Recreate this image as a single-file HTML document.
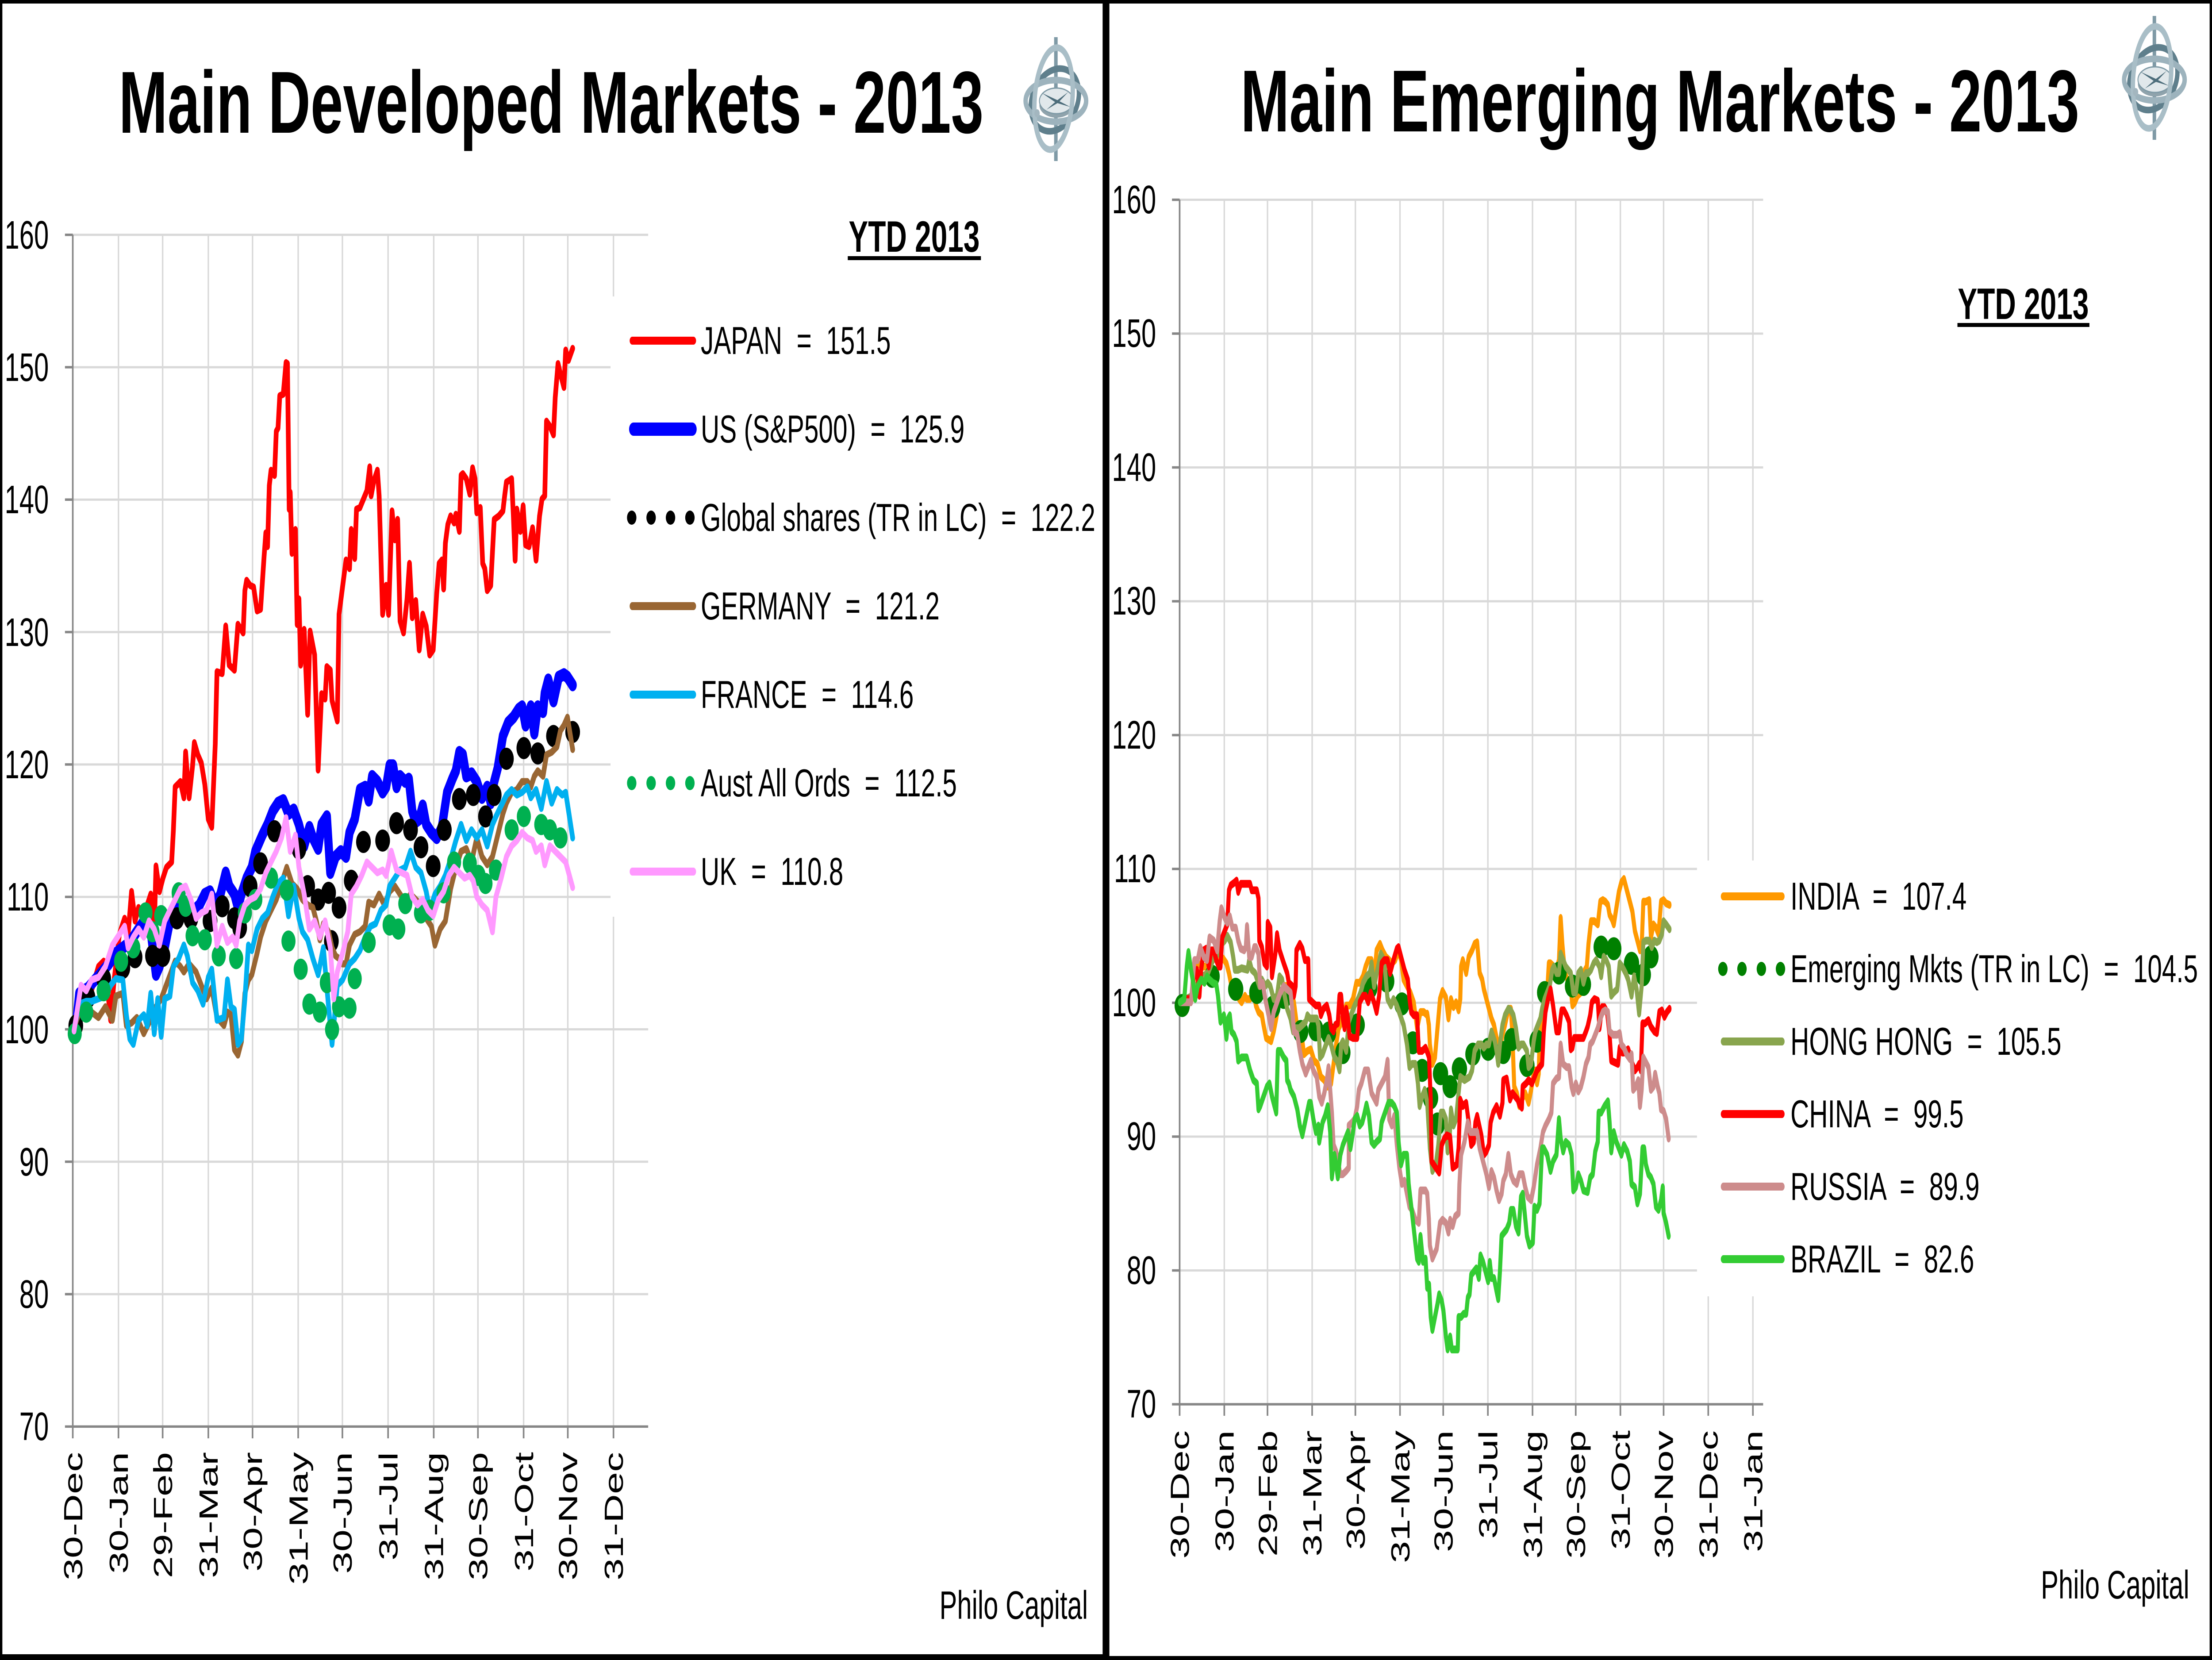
<!DOCTYPE html>
<html>
<head>
<meta charset="utf-8">
<style>
html,body{margin:0;padding:0;width:100%;height:100%;overflow:hidden;background:#000;}
svg{position:absolute;left:0;top:0;width:100%;height:100%;display:block;}
text{font-family:"Liberation Sans",Arial,sans-serif;fill:#000;}
.t{white-space:pre;}
</style>
</head>
<body>
<svg viewBox="0 0 7525 3752" preserveAspectRatio="none" xmlns="http://www.w3.org/2000/svg">
<rect x="0" y="0" width="7525" height="3752" fill="#000"/>
<rect x="8" y="8" width="3743" height="3731" fill="#fff"/>
<rect x="3774" y="8" width="3743" height="3735" fill="#fff"/>

<!-- ================= LEFT PANEL ================= -->
<text x="1875" y="300" font-size="199" font-weight="bold" text-anchor="middle">Main Developed Markets - 2013</text>

<g transform="translate(3592,224)">
  <rect x="-6" y="-140" width="12" height="280" fill="#7f9aa6"/>
  <ellipse cx="-4" cy="0" rx="86" ry="66" transform="rotate(-28)" fill="none" stroke="#5f7f8c" stroke-width="15"/>
  <ellipse cx="2" cy="14" rx="58" ry="28" fill="#8fa3ac"/>
  <ellipse cx="2" cy="4" rx="58" ry="29" fill="#e1e8eb" stroke="#7f9aa6" stroke-width="3"/>
  <path d="M-48,-14 L4,2 L50,18 L0,8 Z M-32,24 L2,4 L42,-16 L8,8 Z" fill="#4d6d7b"/>
  <ellipse cx="0" cy="4" rx="103" ry="47" fill="none" stroke="#9db3bd" stroke-width="15"/>
  <ellipse cx="-8" cy="0" rx="64" ry="116" transform="rotate(8)" fill="none" stroke="#a9bec7" stroke-width="15"/>
  <circle cx="-64" cy="32" r="9" fill="#a3b6bf"/>
</g>

<g stroke="#d9d9d9" stroke-width="5" fill="none">
  <line x1="247.6" y1="2925.1" x2="2205" y2="2925.1"/>
  <line x1="247.6" y1="2625.8" x2="2205" y2="2625.8"/>
  <line x1="247.6" y1="2326.5" x2="2205" y2="2326.5"/>
  <line x1="247.6" y1="2027.2" x2="2205" y2="2027.2"/>
  <line x1="247.6" y1="1727.9" x2="2205" y2="1727.9"/>
  <line x1="247.6" y1="1428.6" x2="2205" y2="1428.6"/>
  <line x1="247.6" y1="1129.3" x2="2205" y2="1129.3"/>
  <line x1="247.6" y1="830" x2="2205" y2="830"/>
  <line x1="247.6" y1="530.7" x2="2205" y2="530.7"/>
  <line x1="403.0" y1="530.7" x2="403.0" y2="3224.4"/>
  <line x1="553.3" y1="530.7" x2="553.3" y2="3224.4"/>
  <line x1="708.7" y1="530.7" x2="708.7" y2="3224.4"/>
  <line x1="859.1" y1="530.7" x2="859.1" y2="3224.4"/>
  <line x1="1014.4" y1="530.7" x2="1014.4" y2="3224.4"/>
  <line x1="1164.8" y1="530.7" x2="1164.8" y2="3224.4"/>
  <line x1="1320.2" y1="530.7" x2="1320.2" y2="3224.4"/>
  <line x1="1475.5" y1="530.7" x2="1475.5" y2="3224.4"/>
  <line x1="1625.9" y1="530.7" x2="1625.9" y2="3224.4"/>
  <line x1="1781.3" y1="530.7" x2="1781.3" y2="3224.4"/>
  <line x1="1931.6" y1="530.7" x2="1931.6" y2="3224.4"/>
  <line x1="2087.0" y1="530.7" x2="2087.0" y2="3224.4"/>
</g>
<rect x="2077" y="670" width="1670" height="1402" fill="#fff"/>
<g stroke="#868686" stroke-width="5.5" fill="none">
  <line x1="247.6" y1="530.7" x2="247.6" y2="3251"/>
  <line x1="221" y1="3224.4" x2="2205" y2="3224.4"/>
  <line x1="221" y1="2925.1" x2="247.6" y2="2925.1"/>
  <line x1="221" y1="2625.8" x2="247.6" y2="2625.8"/>
  <line x1="221" y1="2326.5" x2="247.6" y2="2326.5"/>
  <line x1="221" y1="2027.2" x2="247.6" y2="2027.2"/>
  <line x1="221" y1="1727.9" x2="247.6" y2="1727.9"/>
  <line x1="221" y1="1428.6" x2="247.6" y2="1428.6"/>
  <line x1="221" y1="1129.3" x2="247.6" y2="1129.3"/>
  <line x1="221" y1="830" x2="247.6" y2="830"/>
  <line x1="221" y1="530.7" x2="247.6" y2="530.7"/>
  <line x1="403.0" y1="3224.4" x2="403.0" y2="3251"/>
  <line x1="553.3" y1="3224.4" x2="553.3" y2="3251"/>
  <line x1="708.7" y1="3224.4" x2="708.7" y2="3251"/>
  <line x1="859.1" y1="3224.4" x2="859.1" y2="3251"/>
  <line x1="1014.4" y1="3224.4" x2="1014.4" y2="3251"/>
  <line x1="1164.8" y1="3224.4" x2="1164.8" y2="3251"/>
  <line x1="1320.2" y1="3224.4" x2="1320.2" y2="3251"/>
  <line x1="1475.5" y1="3224.4" x2="1475.5" y2="3251"/>
  <line x1="1625.9" y1="3224.4" x2="1625.9" y2="3251"/>
  <line x1="1781.3" y1="3224.4" x2="1781.3" y2="3251"/>
  <line x1="1931.6" y1="3224.4" x2="1931.6" y2="3251"/>
  <line x1="2087.0" y1="3224.4" x2="2087.0" y2="3251"/>
</g>
<g font-size="90" text-anchor="end">
  <text x="166" y="3255">70</text>
  <text x="166" y="2956">80</text>
  <text x="166" y="2657">90</text>
  <text x="166" y="2358">100</text>
  <text x="166" y="2058">110</text>
  <text x="166" y="1759">120</text>
  <text x="166" y="1460">130</text>
  <text x="166" y="1160">140</text>
  <text x="166" y="861">150</text>
  <text x="166" y="562">160</text>
</g>
<g font-size="90" text-anchor="end">
  <text transform="translate(279.6,3282) rotate(-90)">30-Dec</text>
  <text transform="translate(435.0,3282) rotate(-90)">30-Jan</text>
  <text transform="translate(585.3,3282) rotate(-90)">29-Feb</text>
  <text transform="translate(740.7,3282) rotate(-90)">31-Mar</text>
  <text transform="translate(891.1,3282) rotate(-90)">30-Apr</text>
  <text transform="translate(1046.4,3282) rotate(-90)">31-May</text>
  <text transform="translate(1196.8,3282) rotate(-90)">30-Jun</text>
  <text transform="translate(1352.2,3282) rotate(-90)">31-Jul</text>
  <text transform="translate(1507.5,3282) rotate(-90)">31-Aug</text>
  <text transform="translate(1657.9,3282) rotate(-90)">30-Sep</text>
  <text transform="translate(1813.3,3282) rotate(-90)">31-Oct</text>
  <text transform="translate(1963.6,3282) rotate(-90)">30-Nov</text>
  <text transform="translate(2119.0,3282) rotate(-90)">31-Dec</text>
</g>

<!-- series left (uniform scale group) -->
<g transform="translate(240,1500) scale(1.1862)" fill="none" stroke-linejoin="round" stroke-linecap="round">
  <!-- JAPAN -->
  <polyline stroke="#ff0000" stroke-width="13.5" points="12,694.7 40,628.3 60,623.2 80,577.2 95,567.0 105,613.0 115,679.4 125,602.7 140,515.9 155,485.3 165,515.9 175,434.2 185,490.4 195,464.8 210,485.3 220,459.7 230,439.3 240,510.8 245,385.7 255,434.2 265,408.6 275,388.2 290,378.0 295,316.7 300,235.0 315,224.8 325,255.4 330,168.6 340,255.4 350,194.1 355,150.7 365,173.7 375,189.0 385,229.9 395,296.3 405,311.6 415,153.2 420,15.5 435,18.8 445,-71.6 455,2.6 470,12.3 480,-74.8 495,-58.7 500,-139.3 505,-158.7 515,-149.0 525,-145.8 535,-100.6 545,-103.8 555,-203.8 560,-249.0 565,-223.2 570,-339.3 575,-368.4 585,-358.7 590,-442.6 595,-449.0 600,-510.3 610,-513.5 618,-573.5 622,-571.6 627,-294.2 630,-326.4 635,-210.3 645,-255.4 650,-74.8 655,-123.2 660,2.6 670,-65.1 680,96.2 687,-61.9 700,-16.7 710,202.6 720,57.5 730,67.2 735,5.9 745,12.3 750,70.4 765,109.1 770,-94.1 780,-145.8 790,-197.4 800,-181.2 805,-255.4 815,-200.6 820,-294.2 830,-297.4 840,-313.5 850,-329.6 858,-374.8 862,-320.0 870,-349.0 880,-368.4 885,-320.0 895,-94.1 905,-149.0 912,-94.1 922,-290.9 930,-236.1 938,-274.8 945,-81.2 955,-58.7 965,-123.2 972,-190.9 980,-87.7 990,-120.0 1000,-26.4 1010,-94.1 1020,-71.6 1030,-16.7 1040,-26.4 1050,-132.9 1057,-190.9 1065,-197.4 1070,-142.5 1075,-229.6 1082,-265.1 1090,-281.3 1100,-268.3 1105,-284.5 1115,-252.2 1120,-358.7 1125,-361.9 1135,-352.2 1145,-323.2 1153,-372.9 1160,-352.2 1165,-287.7 1175,-297.4 1182,-190.9 1188,-181.2 1195,-139.3 1205,-149.0 1215,-274.8 1228,-281.3 1240,-290.9 1245,-320.0 1250,-345.8 1265,-352.2 1270,-281.3 1275,-197.4 1280,-294.2 1290,-252.2 1298,-300.6 1305,-226.4 1315,-223.2 1325,-258.7 1330,-229.6 1335,-197.4 1345,-281.3 1352,-313.5 1360,-320.0 1365,-461.9 1375,-452.2 1385,-436.1 1390,-507.1 1398,-571.6 1405,-552.2 1415,-526.4 1420,-597.4 1428,-578.0 1440,-600.6"/>
  <!-- US -->
  <polyline stroke="#0000ff" stroke-width="23.6" points="15,694.7 25,628.3 50,618.1 70,602.7 90,587.4 110,572.1 130,551.7 150,541.4 170,531.2 190,510.8 210,490.4 230,510.8 245,592.5 255,577.2 270,541.4 285,490.4 300,459.7 320,449.5 340,459.7 355,469.9 370,459.7 385,439.3 400,434.2 415,459.7 430,439.3 445,398.4 455,424.0 470,439.3 480,464.8 490,439.3 505,408.6 520,388.2 530,357.6 550,326.9 565,306.5 580,280.9 595,265.6 610,260.5 625,286.0 640,278.4 655,306.5 670,347.3 685,311.6 695,332.0 710,352.5 720,306.5 735,291.2 745,398.4 760,367.8 775,357.6 790,367.8 800,321.8 815,296.3 830,240.1 845,235.0 855,260.5 865,214.5 880,224.8 895,245.2 905,235.0 915,194.1 925,194.1 935,235.0 945,214.5 960,224.8 970,219.6 980,280.9 990,301.4 1000,296.3 1010,270.7 1020,306.5 1035,321.8 1050,332.0 1065,311.6 1080,245.2 1095,219.6 1105,204.3 1115,168.6 1125,173.7 1135,214.5 1150,209.4 1165,224.8 1180,255.4 1195,235.0 1205,265.6 1215,224.8 1225,199.2 1240,137.9 1255,112.4 1270,102.2 1285,86.8 1295,81.7 1305,117.5 1320,81.7 1330,132.8 1340,81.7 1355,91.9 1360,56.2 1370,30.6 1385,71.5 1400,25.5 1415,20.4 1425,25.5 1440,40.9"/>
  <!-- Global shares dots -->
  <g fill="#000" stroke="none">
    <circle cx="15" cy="689.6" r="21.1"/><circle cx="50" cy="636.0" r="21.1"/><circle cx="95" cy="600.2" r="21.1"/>
    <circle cx="150" cy="579.8" r="21.1"/><circle cx="185" cy="559.3" r="21.1"/><circle cx="235" cy="556.8" r="21.1"/>
    <circle cx="265" cy="556.8" r="21.1"/><circle cx="305" cy="485.3" r="21.1"/><circle cx="345" cy="485.3" r="21.1"/>
    <circle cx="400" cy="490.4" r="21.1"/><circle cx="435" cy="462.3" r="21.1"/><circle cx="470" cy="485.3" r="21.1"/>
    <circle cx="485" cy="503.1" r="21.1"/><circle cx="515" cy="424.0" r="21.1"/><circle cx="545" cy="380.5" r="21.1"/>
    <circle cx="585" cy="319.3" r="21.1"/><circle cx="655" cy="352.5" r="21.1"/><circle cx="680" cy="424.0" r="21.1"/>
    <circle cx="710" cy="449.5" r="21.1"/><circle cx="740" cy="436.7" r="21.1"/><circle cx="770" cy="464.8" r="21.1"/>
    <circle cx="748" cy="528.7" r="21.1"/><circle cx="805" cy="413.7" r="21.1"/><circle cx="840" cy="339.7" r="21.1"/>
    <circle cx="895" cy="337.1" r="21.1"/><circle cx="935" cy="303.9" r="21.1"/><circle cx="975" cy="316.7" r="21.1"/>
    <circle cx="1005" cy="349.9" r="21.1"/><circle cx="1040" cy="385.7" r="21.1"/><circle cx="1072" cy="316.7" r="21.1"/>
    <circle cx="1115" cy="258.0" r="21.1"/><circle cx="1155" cy="250.3" r="21.1"/><circle cx="1190" cy="291.2" r="21.1"/>
    <circle cx="1215" cy="250.3" r="21.1"/><circle cx="1250" cy="181.3" r="21.1"/><circle cx="1300" cy="160.9" r="21.1"/>
    <circle cx="1340" cy="171.1" r="21.1"/><circle cx="1385" cy="137.9" r="21.1"/><circle cx="1440" cy="130.3" r="21.1"/>
  </g>
  <!-- GERMANY -->
  <polyline stroke="#996633" stroke-width="13.5" points="10,694.7 30,653.8 60,664.0 80,674.3 100,653.8 120,679.4 130,633.4 150,628.3 160,689.6 175,684.5 190,674.3 210,704.9 225,684.5 240,658.9 260,638.5 280,602.7 300,567.0 315,577.2 325,587.4 340,572.1 360,587.4 375,613.0 390,638.5 405,618.1 420,674.3 440,689.6 450,664.0 460,669.1 470,735.6 480,745.8 490,720.2 500,628.3 510,602.7 520,592.5 535,551.7 545,521.0 560,490.4 575,469.9 590,449.5 605,418.9 620,388.2 635,418.9 650,429.1 665,449.5 680,459.7 695,464.8 705,490.4 715,526.1 725,495.5 740,510.8 750,541.4 760,556.8 770,561.9 780,572.1 790,572.1 800,536.3 815,515.9 830,510.8 845,500.6 855,454.6 870,459.7 885,439.3 900,459.7 915,434.2 930,424.0 945,439.3 960,454.6 975,439.3 990,449.5 1005,459.7 1020,485.3 1035,500.6 1045,536.3 1060,505.7 1075,490.4 1090,429.1 1105,388.2 1120,357.6 1135,352.5 1150,378.0 1165,332.0 1180,367.8 1195,383.1 1210,367.8 1225,326.9 1240,286.0 1250,265.6 1265,245.2 1280,240.1 1295,224.8 1310,224.8 1320,235.0 1330,214.5 1340,204.3 1355,214.5 1365,173.7 1380,168.6 1395,158.3 1405,127.7 1415,117.5 1425,102.2 1440,163.5"/>
  <!-- FRANCE -->
  <polyline stroke="#00b0f0" stroke-width="13.5" points="10,694.7 25,648.7 45,643.6 60,643.6 80,638.5 100,633.4 115,613.0 130,600.2 150,602.7 160,669.1 170,715.1 180,725.3 195,679.4 210,669.1 220,689.6 230,628.3 240,704.9 250,638.5 260,710.0 270,638.5 285,633.4 295,577.2 310,561.9 325,536.3 335,556.8 350,607.9 365,623.2 380,648.7 395,597.6 405,582.3 420,679.4 440,674.3 450,602.7 460,653.8 470,658.9 480,725.3 490,715.1 500,638.5 510,536.3 520,546.6 535,505.7 550,485.3 565,475.0 580,444.4 595,418.9 610,408.6 625,480.2 640,424.0 655,485.3 665,510.8 680,526.1 695,561.9 710,592.5 725,541.4 740,653.8 750,725.3 765,613.0 780,602.7 800,572.1 815,561.9 830,546.6 845,521.0 860,500.6 875,495.5 890,469.9 905,459.7 915,424.0 930,408.6 945,393.3 960,388.2 975,357.6 990,388.2 1005,398.4 1020,434.2 1030,469.9 1045,439.3 1060,424.0 1075,403.5 1090,372.9 1105,337.1 1120,306.5 1135,337.1 1150,316.7 1165,332.0 1180,316.7 1195,347.3 1210,306.5 1220,291.2 1235,270.7 1250,250.3 1265,240.1 1280,250.3 1295,245.2 1310,235.0 1320,255.4 1335,240.1 1350,275.8 1365,224.8 1380,265.6 1395,240.1 1410,250.3 1420,245.2 1440,332.0"/>
  <!-- Aust All Ords dots -->
  <g fill="#00b050" stroke="none">
    <circle cx="12" cy="704.9" r="20.2"/><circle cx="45" cy="664.0" r="20.2"/><circle cx="95" cy="623.2" r="20.2"/>
    <circle cx="145" cy="567.0" r="20.2"/><circle cx="180" cy="541.4" r="20.2"/><circle cx="215" cy="475.0" r="20.2"/>
    <circle cx="235" cy="510.8" r="20.2"/><circle cx="260" cy="480.2" r="20.2"/><circle cx="310" cy="436.7" r="20.2"/>
    <circle cx="330" cy="462.3" r="20.2"/><circle cx="350" cy="518.5" r="20.2"/><circle cx="385" cy="526.1" r="20.2"/>
    <circle cx="425" cy="556.8" r="20.2"/><circle cx="475" cy="561.9" r="20.2"/><circle cx="500" cy="475.0" r="20.2"/>
    <circle cx="530" cy="449.5" r="20.2"/><circle cx="575" cy="408.6" r="20.2"/><circle cx="620" cy="431.6" r="20.2"/>
    <circle cx="625" cy="528.7" r="20.2"/><circle cx="660" cy="582.3" r="20.2"/><circle cx="685" cy="648.7" r="20.2"/>
    <circle cx="715" cy="664.0" r="20.2"/><circle cx="735" cy="607.9" r="20.2"/><circle cx="750" cy="697.2" r="20.2"/>
    <circle cx="770" cy="653.8" r="20.2"/><circle cx="800" cy="656.4" r="20.2"/><circle cx="815" cy="600.2" r="20.2"/>
    <circle cx="855" cy="531.2" r="20.2"/><circle cx="915" cy="498.0" r="20.2"/><circle cx="940" cy="505.7" r="20.2"/>
    <circle cx="960" cy="457.2" r="20.2"/><circle cx="1005" cy="475.0" r="20.2"/><circle cx="1030" cy="469.9" r="20.2"/>
    <circle cx="1070" cy="436.7" r="20.2"/><circle cx="1100" cy="378.0" r="20.2"/><circle cx="1145" cy="380.5" r="20.2"/>
    <circle cx="1170" cy="403.5" r="20.2"/><circle cx="1190" cy="418.9" r="20.2"/><circle cx="1220" cy="393.3" r="20.2"/>
    <circle cx="1265" cy="316.7" r="20.2"/><circle cx="1300" cy="291.2" r="20.2"/><circle cx="1350" cy="306.5" r="20.2"/>
    <circle cx="1375" cy="316.7" r="20.2"/><circle cx="1405" cy="332.0" r="20.2"/>
  </g>
  <!-- UK -->
  <polyline stroke="#ff99ff" stroke-width="13.5" points="10,699.8 30,613.0 45,623.2 60,602.7 80,597.6 100,577.2 120,536.3 140,515.9 155,500.6 165,541.4 180,521.0 195,505.7 210,521.0 225,490.4 240,505.7 255,536.3 270,490.4 285,469.9 300,449.5 315,429.1 330,424.0 345,449.5 360,485.3 375,475.0 390,469.9 405,439.3 420,536.3 435,500.6 450,531.2 465,521.0 475,536.3 485,490.4 500,459.7 515,449.5 530,444.4 545,429.1 560,398.4 575,378.0 590,357.6 605,332.0 618,293.7 630,357.6 645,326.9 655,388.2 670,439.3 685,505.7 700,490.4 715,521.0 730,490.4 745,541.4 755,638.5 765,587.4 780,551.7 795,510.8 805,439.3 820,424.0 835,403.5 850,378.0 865,388.2 880,398.4 895,393.3 905,403.5 920,357.6 935,393.3 950,398.4 965,403.5 980,444.4 995,459.7 1010,449.5 1025,469.9 1040,480.2 1055,449.5 1070,434.2 1085,403.5 1100,388.2 1115,398.4 1130,408.6 1145,403.5 1155,413.7 1165,444.4 1180,459.7 1195,469.9 1210,510.8 1220,444.4 1235,408.6 1250,367.8 1265,347.3 1280,337.1 1295,321.8 1310,332.0 1325,337.1 1335,357.6 1350,347.3 1360,383.1 1375,347.3 1390,357.6 1405,367.8 1420,378.0 1440,426.5"/>
</g>

<!-- legend left -->
<text x="3110" y="569" font-size="99" font-weight="bold" text-anchor="middle">YTD 2013</text>
<rect x="2884" y="579" width="453" height="9" fill="#000"/>
<g stroke-linecap="round" stroke-width="18">
  <line x1="2151" y1="770" x2="2359" y2="770" stroke="#ff0000"/>
  <line x1="2155" y1="970" x2="2355" y2="970" stroke="#0000ff" stroke-width="30"/>
  <line x1="2151" y1="1370" x2="2359" y2="1370" stroke="#996633"/>
  <line x1="2151" y1="1570" x2="2359" y2="1570" stroke="#00b0f0"/>
  <line x1="2151" y1="1970" x2="2359" y2="1970" stroke="#ff99ff"/>
</g>
<g fill="#000">
  <circle cx="2149" cy="1170" r="16"/><circle cx="2215" cy="1170" r="16"/><circle cx="2281" cy="1170" r="16"/><circle cx="2347" cy="1170" r="16"/>
</g>
<g fill="#00b050">
  <circle cx="2149" cy="1770" r="16"/><circle cx="2215" cy="1770" r="16"/><circle cx="2281" cy="1770" r="16"/><circle cx="2347" cy="1770" r="16"/>
</g>
<g font-size="88">
  <text class="t" x="2384" y="800">JAPAN  =  151.5</text>
  <text class="t" x="2384" y="1000">US (S&amp;P500)  =  125.9</text>
  <text class="t" x="2384" y="1200">Global shares (TR in LC)  =  122.2</text>
  <text class="t" x="2384" y="1400">GERMANY  =  121.2</text>
  <text class="t" x="2384" y="1600">FRANCE  =  114.6</text>
  <text class="t" x="2384" y="1800">Aust All Ords  =  112.5</text>
  <text class="t" x="2384" y="2000">UK  =  110.8</text>
</g>
<text x="3701" y="3659" font-size="90" text-anchor="end">Philo Capital</text>

<!-- ================= RIGHT PANEL ================= -->
<text x="5647" y="297" font-size="199" font-weight="bold" text-anchor="middle">Main Emerging Markets - 2013</text>

<g transform="translate(7329,176)">
  <rect x="-6" y="-140" width="12" height="280" fill="#7f9aa6"/>
  <ellipse cx="-4" cy="0" rx="86" ry="66" transform="rotate(-28)" fill="none" stroke="#5f7f8c" stroke-width="15"/>
  <ellipse cx="2" cy="14" rx="58" ry="28" fill="#8fa3ac"/>
  <ellipse cx="2" cy="4" rx="58" ry="29" fill="#e1e8eb" stroke="#7f9aa6" stroke-width="3"/>
  <path d="M-48,-14 L4,2 L50,18 L0,8 Z M-32,24 L2,4 L42,-16 L8,8 Z" fill="#4d6d7b"/>
  <ellipse cx="0" cy="4" rx="103" ry="47" fill="none" stroke="#9db3bd" stroke-width="15"/>
  <ellipse cx="-8" cy="0" rx="64" ry="116" transform="rotate(8)" fill="none" stroke="#a9bec7" stroke-width="15"/>
  <circle cx="-64" cy="32" r="9" fill="#a3b6bf"/>
</g>

<g stroke="#d9d9d9" stroke-width="5" fill="none">
  <line x1="4013" y1="2871.5" x2="5998" y2="2871.5"/>
  <line x1="4013" y1="2569" x2="5998" y2="2569"/>
  <line x1="4013" y1="2266.5" x2="5998" y2="2266.5"/>
  <line x1="4013" y1="1964" x2="5998" y2="1964"/>
  <line x1="4013" y1="1661.5" x2="5998" y2="1661.5"/>
  <line x1="4013" y1="1359" x2="5998" y2="1359"/>
  <line x1="4013" y1="1056.5" x2="5998" y2="1056.5"/>
  <line x1="4013" y1="754" x2="5998" y2="754"/>
  <line x1="4013" y1="451.5" x2="5998" y2="451.5"/>
  <line x1="4164.9" y1="451.5" x2="4164.9" y2="3174"/>
  <line x1="4311.9" y1="451.5" x2="4311.9" y2="3174"/>
  <line x1="4463.8" y1="451.5" x2="4463.8" y2="3174"/>
  <line x1="4610.8" y1="451.5" x2="4610.8" y2="3174"/>
  <line x1="4762.7" y1="451.5" x2="4762.7" y2="3174"/>
  <line x1="4909.7" y1="451.5" x2="4909.7" y2="3174"/>
  <line x1="5061.6" y1="451.5" x2="5061.6" y2="3174"/>
  <line x1="5213.5" y1="451.5" x2="5213.5" y2="3174"/>
  <line x1="5360.5" y1="451.5" x2="5360.5" y2="3174"/>
  <line x1="5512.4" y1="451.5" x2="5512.4" y2="3174"/>
  <line x1="5659.4" y1="451.5" x2="5659.4" y2="3174"/>
  <line x1="5811.3" y1="451.5" x2="5811.3" y2="3174"/>
  <line x1="5963.2" y1="451.5" x2="5963.2" y2="3174"/>
</g>
<rect x="5773" y="1945" width="1737" height="985" fill="#fff"/>
<g stroke="#868686" stroke-width="5.5" fill="none">
  <line x1="4013" y1="451.5" x2="4013" y2="3200"/>
  <line x1="3987" y1="3174" x2="5998" y2="3174"/>
  <line x1="3987" y1="2871.5" x2="4013" y2="2871.5"/>
  <line x1="3987" y1="2569" x2="4013" y2="2569"/>
  <line x1="3987" y1="2266.5" x2="4013" y2="2266.5"/>
  <line x1="3987" y1="1964" x2="4013" y2="1964"/>
  <line x1="3987" y1="1661.5" x2="4013" y2="1661.5"/>
  <line x1="3987" y1="1359" x2="4013" y2="1359"/>
  <line x1="3987" y1="1056.5" x2="4013" y2="1056.5"/>
  <line x1="3987" y1="754" x2="4013" y2="754"/>
  <line x1="3987" y1="451.5" x2="4013" y2="451.5"/>
  <line x1="4164.9" y1="3174" x2="4164.9" y2="3200"/>
  <line x1="4311.9" y1="3174" x2="4311.9" y2="3200"/>
  <line x1="4463.8" y1="3174" x2="4463.8" y2="3200"/>
  <line x1="4610.8" y1="3174" x2="4610.8" y2="3200"/>
  <line x1="4762.7" y1="3174" x2="4762.7" y2="3200"/>
  <line x1="4909.7" y1="3174" x2="4909.7" y2="3200"/>
  <line x1="5061.6" y1="3174" x2="5061.6" y2="3200"/>
  <line x1="5213.5" y1="3174" x2="5213.5" y2="3200"/>
  <line x1="5360.5" y1="3174" x2="5360.5" y2="3200"/>
  <line x1="5512.4" y1="3174" x2="5512.4" y2="3200"/>
  <line x1="5659.4" y1="3174" x2="5659.4" y2="3200"/>
  <line x1="5811.3" y1="3174" x2="5811.3" y2="3200"/>
  <line x1="5963.2" y1="3174" x2="5963.2" y2="3200"/>
</g>
<g font-size="90" text-anchor="end">
  <text x="3933" y="3204">70</text>
  <text x="3933" y="2902">80</text>
  <text x="3933" y="2599">90</text>
  <text x="3933" y="2297">100</text>
  <text x="3933" y="1994">110</text>
  <text x="3933" y="1692">120</text>
  <text x="3933" y="1389">130</text>
  <text x="3933" y="1087">140</text>
  <text x="3933" y="784">150</text>
  <text x="3933" y="482">160</text>
</g>
<g font-size="90" text-anchor="end">
  <text transform="translate(4045,3233) rotate(-90)">30-Dec</text>
  <text transform="translate(4196.9,3233) rotate(-90)">30-Jan</text>
  <text transform="translate(4343.9,3233) rotate(-90)">29-Feb</text>
  <text transform="translate(4495.8,3233) rotate(-90)">31-Mar</text>
  <text transform="translate(4642.8,3233) rotate(-90)">30-Apr</text>
  <text transform="translate(4794.7,3233) rotate(-90)">31-May</text>
  <text transform="translate(4941.7,3233) rotate(-90)">30-Jun</text>
  <text transform="translate(5093.6,3233) rotate(-90)">31-Jul</text>
  <text transform="translate(5245.5,3233) rotate(-90)">31-Aug</text>
  <text transform="translate(5392.5,3233) rotate(-90)">30-Sep</text>
  <text transform="translate(5544.4,3233) rotate(-90)">31-Oct</text>
  <text transform="translate(5691.4,3233) rotate(-90)">30-Nov</text>
  <text transform="translate(5843.3,3233) rotate(-90)">31-Dec</text>
  <text transform="translate(5995.2,3233) rotate(-90)">31-Jan</text>
</g>

<!-- series right -->
<g fill="none" stroke-linejoin="round" stroke-linecap="round" stroke-width="24">
  <!-- INDIA -->
  <polyline transform="matrix(0.574 0 0 0.7334 4000 1950)" stroke="#ff9900" points="25,430 60,420 95,420 110,330 130,310 160,320 200,320 215,280 230,290 260,290 280,295 300,310 315,340 330,380 350,390 375,420 390,430 410,410 420,420 440,420 460,400 475,440 490,460 510,470 520,500 535,540 565,550 580,520 595,480 610,430 625,400 640,380 660,380 680,390 700,430 715,490 730,510 750,550 760,590 780,580 800,575 820,610 840,620 860,660 880,670 900,690 920,680 935,620 950,560 965,510 975,500 990,470 1010,440 1030,440 1050,420 1070,370 1090,370 1110,350 1125,320 1140,300 1160,300 1175,360 1190,270 1210,250 1225,270 1245,290 1265,300 1280,310 1300,300 1320,270 1335,300 1350,360 1370,380 1390,400 1410,430 1430,510 1450,460 1470,460 1490,470"/>
  <polyline transform="matrix(0.574 0 0 0.7334 4850 1950)" stroke="#ff9900" points="9,465 19,500 25,560 40,620 55,600 70,510 85,420 100,395 120,415 135,480 150,420 165,445 180,430 195,455 205,420 210,320 220,300 240,340 255,290 275,270 290,250 305,245 320,340 335,360 345,390 360,420 375,450 390,480 405,500 420,540 440,575 455,530 470,500 490,450 505,450 515,540 520,620 525,690 540,710 555,750 570,730 590,710 610,740 625,700 640,650 650,640 660,680 670,650 675,540 690,480 705,430 720,400 730,310 740,310 760,320 775,330 790,300 800,170 810,250 825,340 840,360 860,390 870,440 885,430 900,410 920,400 935,340 955,320 965,250 980,180 1000,180 1020,190 1035,120 1050,115 1065,120 1080,130 1090,160 1105,175 1115,190 1130,140 1145,90 1160,60 1175,50 1190,80 1205,110 1225,150 1240,210 1255,240 1270,270 1280,260 1290,120 1305,120 1325,115 1335,230 1350,190 1365,200 1380,220 1395,120 1410,115 1425,125 1445,130"/>
  <!-- Emerging dots -->
  <g transform="matrix(0.574 0 0 0.7334 4000 1950)" fill="#008000" stroke="none">
    <ellipse cx="38" cy="440" rx="45.3" ry="35.5"/>
    <ellipse cx="215" cy="350" rx="45.3" ry="35.5"/>
    <ellipse cx="355" cy="390" rx="45.3" ry="35.5"/>
    <ellipse cx="480" cy="400" rx="45.3" ry="35.5"/>
    <ellipse cx="575" cy="445" rx="45.3" ry="35.5"/>
    <ellipse cx="640" cy="415" rx="45.3" ry="35.5"/>
    <ellipse cx="740" cy="520" rx="45.3" ry="35.5"/>
    <ellipse cx="830" cy="515" rx="45.3" ry="35.5"/>
    <ellipse cx="905" cy="525" rx="45.3" ry="35.5"/>
    <ellipse cx="990" cy="585" rx="45.3" ry="35.5"/>
    <ellipse cx="1075" cy="500" rx="45.3" ry="35.5"/>
    <ellipse cx="1150" cy="385" rx="45.3" ry="35.5"/>
    <ellipse cx="1250" cy="365" rx="45.3" ry="35.5"/>
    <ellipse cx="1340" cy="435" rx="45.3" ry="35.5"/>
    <ellipse cx="1405" cy="555" rx="45.3" ry="35.5"/>
    <ellipse cx="1460" cy="640" rx="45.3" ry="35.5"/>
    <ellipse cx="1510" cy="725" rx="45.3" ry="35.5"/>
  </g>
  <g transform="matrix(0.574 0 0 0.7334 4850 1950)" fill="#008000" stroke="none">
    <ellipse cx="70" cy="805" rx="45.3" ry="35.5"/>
    <ellipse cx="88" cy="650" rx="45.3" ry="35.5"/>
    <ellipse cx="145" cy="690" rx="45.3" ry="35.5"/>
    <ellipse cx="200" cy="635" rx="45.3" ry="35.5"/>
    <ellipse cx="280" cy="590" rx="45.3" ry="35.5"/>
    <ellipse cx="370" cy="575" rx="45.3" ry="35.5"/>
    <ellipse cx="460" cy="585" rx="45.3" ry="35.5"/>
    <ellipse cx="510" cy="545" rx="45.3" ry="35.5"/>
    <ellipse cx="600" cy="625" rx="45.3" ry="35.5"/>
    <ellipse cx="660" cy="550" rx="45.3" ry="35.5"/>
    <ellipse cx="705" cy="400" rx="45.3" ry="35.5"/>
    <ellipse cx="790" cy="340" rx="45.3" ry="35.5"/>
    <ellipse cx="870" cy="380" rx="45.3" ry="35.5"/>
    <ellipse cx="935" cy="375" rx="45.3" ry="35.5"/>
    <ellipse cx="1040" cy="260" rx="45.3" ry="35.5"/>
    <ellipse cx="1115" cy="265" rx="45.3" ry="35.5"/>
    <ellipse cx="1220" cy="310" rx="45.3" ry="35.5"/>
    <ellipse cx="1290" cy="345" rx="45.3" ry="35.5"/>
    <ellipse cx="1335" cy="290" rx="45.3" ry="35.5"/>
  </g>
  <!-- HONG HONG -->
  <polyline transform="matrix(0.574 0 0 0.7334 4000 1950)" stroke="#89a54e" points="25,430 60,420 100,410 130,370 160,350 190,340 220,300 250,280 270,250 290,240 305,225 325,245 340,290 350,330 370,330 390,325 425,330 435,300 450,330 470,340 495,380 510,360 530,380 545,370 560,380 580,420 600,410 615,350 630,360 645,410 660,450 680,480 695,520 710,510 730,510 750,500 770,490 780,470 795,480 810,480 835,480 845,500 855,600 870,590 890,560 905,540 920,560 940,600 955,610 970,640 980,560 990,550 1010,580 1025,490 1045,460 1060,440 1080,420 1095,400 1110,370 1130,350 1150,340 1160,310 1175,380 1195,330 1215,280 1235,300 1255,420 1275,440 1290,420 1310,440 1330,470 1350,500 1370,560 1385,630 1400,620 1420,620 1435,680 1445,750 1460,720 1475,700 1490,740"/>
  <polyline transform="matrix(0.574 0 0 0.7334 4850 1950)" stroke="#89a54e" points="9,740 25,880 40,950 60,930 75,870 90,770 105,770 120,790 130,890 140,870 150,760 165,810 180,790 195,710 205,660 230,670 260,660 275,640 290,580 310,560 330,560 345,570 360,560 375,560 390,520 410,550 420,580 430,620 440,560 455,500 470,470 490,450 505,455 520,470 535,510 550,570 565,560 580,560 600,580 610,630 625,620 640,550 650,520 665,500 680,480 690,450 705,420 720,400 735,380 750,330 760,320 775,340 790,340 800,280 815,300 830,320 845,330 860,340 875,400 890,400 905,340 920,330 935,370 950,340 965,340 980,330 995,310 1010,300 1030,320 1040,350 1055,290 1070,300 1085,320 1100,410 1115,400 1135,390 1150,310 1165,320 1185,340 1200,360 1220,410 1235,350 1250,390 1265,465 1280,380 1290,245 1305,240 1325,240 1340,260 1355,240 1370,245 1385,240 1400,220 1410,180 1425,190 1445,205"/>
  <!-- CHINA -->
  <polyline transform="matrix(0.574 0 0 0.7334 4000 1950)" stroke="#ff0000" points="25,430 60,420 90,420 110,340 125,330 140,410 150,330 165,270 180,265 195,320 210,270 225,270 240,300 255,320 265,320 275,230 290,210 305,190 315,85 325,70 345,62 360,55 370,90 385,65 440,65 450,85 480,85 490,110 495,240 510,260 525,310 540,320 545,185 560,200 570,350 590,280 600,220 615,270 640,310 660,340 670,370 690,380 700,410 710,380 715,270 735,250 750,265 765,300 785,300 790,420 810,430 830,440 850,440 860,470 875,450 895,440 910,470 920,510 935,520 945,500 960,495 970,410 980,410 990,480 1000,510 1010,450 1020,480 1030,535 1050,540 1075,540 1090,430 1110,410 1125,410 1140,430 1155,400 1175,430 1190,460 1205,410 1220,310 1235,300 1255,300 1270,340 1290,300 1310,265 1320,260 1340,300 1355,330 1375,360 1385,420 1395,460 1410,470 1430,470 1440,580 1460,580 1480,570 1495,590"/>
  <polyline transform="matrix(0.574 0 0 0.7334 4850 1950)" stroke="#ff0000" points="14,590 20,600 30,730 35,920 60,940 80,955 95,870 110,850 125,840 145,845 160,940 185,930 195,880 205,730 220,750 240,740 255,800 270,870 285,860 295,800 305,780 330,840 345,900 360,890 375,870 385,800 400,770 420,750 440,780 455,740 460,670 480,665 500,730 515,710 530,720 545,730 555,745 570,755 575,690 595,680 610,670 630,680 645,660 660,640 675,630 690,620 700,520 710,460 725,420 740,390 755,440 775,520 790,520 805,455 820,455 835,470 850,490 860,575 870,570 880,540 905,540 935,540 950,520 960,505 975,470 985,430 1000,420 1020,425 1030,510 1045,445 1060,445 1075,460 1090,530 1100,610 1120,615 1140,620 1150,570 1165,585 1175,585 1200,575 1215,600 1225,620 1240,640 1255,630 1265,620 1275,640 1285,495 1300,495 1320,485 1335,505 1355,520 1370,525 1385,460 1400,455 1415,475 1430,460 1445,450"/>
  <!-- RUSSIA -->
  <polyline transform="matrix(0.574 0 0 0.7334 4000 1950)" stroke="#cd8c8c" points="25,430 60,430 90,430 110,300 130,300 145,260 165,290 185,300 200,230 225,240 245,270 260,180 270,140 290,170 305,185 320,165 335,200 355,200 370,240 385,265 405,270 415,260 422,195 435,290 450,290 465,260 475,260 490,280 500,380 515,370 530,420 550,470 565,510 580,460 600,430 620,400 640,380 660,390 680,400 690,450 700,520 720,530 735,580 750,620 770,650 785,630 800,610 815,640 835,660 850,720 865,740 880,710 895,670 905,630 915,700 925,770 935,870 950,890 975,960 990,960 1010,950 1025,940 1025,810 1045,800 1060,790 1075,750 1085,700 1100,680 1120,640 1140,640 1160,710 1175,725 1190,740 1200,700 1220,680 1240,660 1255,610 1265,790 1280,810 1295,780 1310,870 1325,940 1340,990 1355,980 1370,1020 1385,1060 1400,1070 1420,1100 1440,1110 1450,1010 1480,1010 1490,1020 1500,1100"/>
  <polyline transform="matrix(0.574 0 0 0.7334 4850 1950)" stroke="#cd8c8c" points="19,1100 25,1180 40,1220 65,1190 75,1150 85,1110 100,1100 120,1110 135,1140 145,1100 160,1120 175,1090 195,1080 200,990 210,900 230,860 250,800 265,830 285,830 305,830 320,880 340,920 360,960 375,1000 390,950 405,970 420,1010 435,1040 450,1020 460,980 475,960 490,900 505,960 520,980 540,990 555,960 575,960 590,1000 605,1030 625,1040 640,1000 660,930 680,880 695,830 710,810 730,790 745,770 755,680 775,665 790,660 800,560 815,620 835,630 850,630 865,690 875,710 890,680 905,705 920,690 935,660 950,620 965,600 975,560 990,550 1005,530 1020,510 1035,480 1050,460 1065,455 1080,460 1090,520 1110,530 1135,530 1150,525 1160,560 1175,570 1190,590 1210,605 1220,590 1230,700 1245,690 1260,670 1270,750 1280,700 1290,600 1300,610 1320,630 1335,700 1350,690 1360,650 1375,690 1385,710 1395,760 1410,765 1425,790 1440,850"/>
  <!-- BRAZIL -->
  <polyline transform="matrix(0.574 0 0 0.7334 4000 1950)" stroke="#33cc33" points="25,430 50,420 65,320 75,275 90,330 100,360 115,420 130,380 150,360 170,370 185,350 200,360 220,370 240,375 250,410 265,490 285,470 300,540 310,480 320,470 330,520 345,530 360,550 370,610 390,600 420,600 440,640 460,670 480,680 490,760 500,750 520,720 540,690 555,680 570,720 595,770 605,580 620,580 640,600 655,610 660,670 670,680 680,700 700,720 720,760 735,810 750,840 770,790 790,740 800,740 815,790 830,830 845,810 850,860 870,800 885,780 900,750 915,830 925,970 940,900 950,930 960,970 975,900 990,870 1005,850 1020,830 1035,880 1050,830 1060,790 1075,780 1090,810 1105,800 1115,780 1130,745 1145,780 1160,860 1175,870 1190,860 1210,850 1220,800 1240,770 1260,740 1280,740 1295,750 1310,770 1320,860 1335,930 1350,900 1370,900 1380,990 1400,1080 1415,1150 1430,1220 1440,1230 1450,1150 1465,1230 1480,1220 1490,1310"/>
  <polyline transform="matrix(0.574 0 0 0.7334 4850 1950)" stroke="#33cc33" points="9,1310 20,1300 30,1400 40,1440 55,1400 70,1360 80,1330 95,1350 105,1380 120,1460 130,1500 145,1460 155,1500 190,1500 195,1400 210,1400 225,1390 240,1390 250,1340 260,1330 270,1270 285,1260 300,1250 315,1280 325,1210 340,1230 355,1260 370,1290 380,1230 390,1280 405,1280 420,1320 430,1345 440,1260 450,1150 465,1140 480,1130 495,1110 505,1070 520,1070 535,1120 550,1140 565,1030 575,1020 585,1070 600,1150 615,1180 635,1170 645,1060 660,1070 675,1050 690,880 700,880 720,900 740,950 755,920 775,900 790,790 800,850 815,890 830,860 850,870 865,900 875,1010 890,1000 905,960 920,980 935,1010 960,1015 975,970 990,960 1005,890 1020,860 1025,770 1040,770 1060,750 1080,735 1090,800 1100,890 1115,830 1130,860 1145,880 1160,900 1175,870 1195,890 1210,920 1220,990 1240,1000 1255,1050 1270,1020 1285,880 1295,880 1305,930 1320,960 1335,970 1350,990 1365,1060 1380,1070 1395,1040 1405,1000 1410,1080 1425,1110 1440,1150"/>
</g>

<!-- legend right -->
<text x="6883" y="721" font-size="99" font-weight="bold" text-anchor="middle">YTD 2013</text>
<rect x="6659" y="730" width="449" height="9" fill="#000"/>
<g stroke-linecap="round" stroke-width="18">
  <line x1="5863" y1="2026" x2="6062" y2="2026" stroke="#ff9900"/>
  <line x1="5863" y1="2354" x2="6062" y2="2354" stroke="#89a54e"/>
  <line x1="5863" y1="2518" x2="6062" y2="2518" stroke="#ff0000"/>
  <line x1="5863" y1="2682" x2="6062" y2="2682" stroke="#cd8c8c"/>
  <line x1="5863" y1="2846" x2="6062" y2="2846" stroke="#33cc33"/>
</g>
<g fill="#008000">
  <circle cx="5861" cy="2190" r="16"/><circle cx="5926" cy="2190" r="16"/><circle cx="5992" cy="2190" r="16"/><circle cx="6057" cy="2190" r="16"/>
</g>
<g font-size="88">
  <text class="t" x="6091" y="2056">INDIA  =  107.4</text>
  <text class="t" x="6091" y="2220">Emerging Mkts (TR in LC)  =  104.5</text>
  <text class="t" x="6091" y="2384">HONG HONG  =  105.5</text>
  <text class="t" x="6091" y="2548">CHINA  =  99.5</text>
  <text class="t" x="6091" y="2712">RUSSIA  =  89.9</text>
  <text class="t" x="6091" y="2876">BRAZIL  =  82.6</text>
</g>
<text x="7448" y="3613" font-size="90" text-anchor="end">Philo Capital</text>
</svg>
</body>
</html>
